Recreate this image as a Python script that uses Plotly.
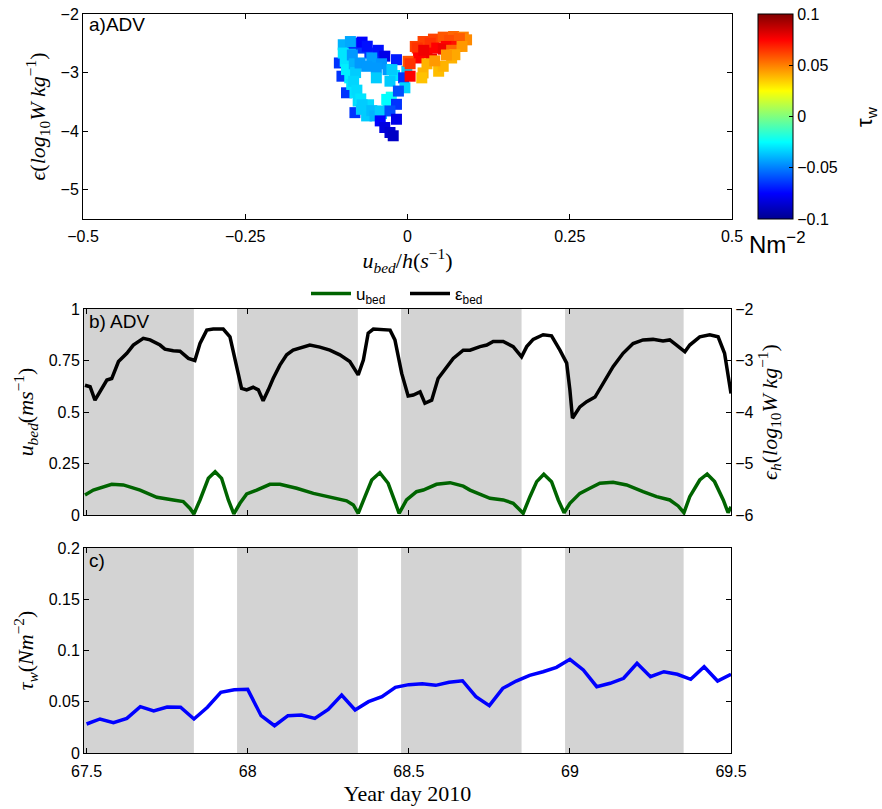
import plotly.graph_objects as go

# ---------------- panel a: epsilon vs u_bed/h coloured by tau_w ----------------
ubed_h = [-0.099, -0.084, -0.071, -0.058, -0.042, -0.017,
          -0.105, -0.101, -0.094, -0.081, -0.084, -0.070, -0.062, -0.045, -0.035,
          -0.099, -0.096, -0.094, -0.089, -0.086, -0.081, -0.076, -0.071, -0.063,
          -0.088, -0.085, -0.082, -0.080, -0.083, -0.078, -0.072, -0.060,
          -0.055, -0.040, -0.030, -0.020,
          -0.070, -0.055, -0.040, -0.030, -0.025,
          -0.050, -0.042, -0.032, -0.073, -0.063, -0.048, -0.048, -0.027, -0.024,
          -0.001, -0.006, -0.004, -0.014, -0.017, -0.027, -0.042, -0.035, -0.027,
          -0.022, -0.017,
          0.012, 0.024, 0.040, 0.055, 0.071, 0.086, 0.091,
          0.015, 0.035, 0.065, 0.080,
          0.017, 0.030, 0.045, 0.060, 0.076, 0.037, 0.025, 0.055,
          0.001, 0.004, 0.068,
          0.024, 0.022, 0.048, 0.055, 0.068, 0.084, 0.073, 0.030, 0.042, 0.060,
          0.004]
eps_a = [-2.525, -2.554, -2.582, -2.667, -2.751, -2.780,
         -2.836, -3.062, -3.345, -3.684, -2.500, -2.480, -2.550, -2.620, -2.720,
         -2.667, -2.808, -2.949, -3.090, -3.203, -3.345, -3.486, -3.627, -3.740,
         -2.470, -2.700, -2.850, -3.000, -3.150, -3.300, -3.450, -3.550,
         -2.750, -2.850, -2.950, -3.050,
         -3.550, -3.650, -3.700, -3.500, -3.420,
         -3.740, -3.655, -3.458, -2.836, -2.893, -2.921, -3.090, -3.147, -2.949,
         -2.977, -3.090, -3.260, -3.316, -3.542, -3.655, -3.825, -3.938, -4.023,
         -4.079, -3.797,
         -2.554, -2.469, -2.429, -2.395, -2.384, -2.395, -2.441,
         -2.580, -2.500, -2.450, -2.420,
         -2.751, -2.667, -2.582, -2.554, -2.554, -2.768, -2.620, -2.600,
         -2.808, -2.850, -2.620,
         -3.006, -3.090, -2.977, -2.893, -2.751, -2.554, -2.695, -2.850, -2.800, -2.700,
         -3.062]
tau_signed = [-0.040, -0.040, -0.065, -0.065, -0.070, -0.070,
              -0.065, -0.065, -0.065, -0.065, -0.065, -0.075, -0.072, -0.072, -0.080,
              -0.030, -0.030, -0.028, -0.028, -0.030, -0.030, -0.032, -0.035, -0.035,
              -0.042, -0.045, -0.040, -0.035, -0.033, -0.032, -0.030, -0.032,
              -0.044, -0.046, -0.045, -0.030,
              -0.035, -0.038, -0.036, -0.022, -0.022,
              -0.040, -0.035, -0.025, -0.045, -0.045, -0.045, -0.035, -0.035, -0.035,
              -0.035, -0.065, -0.033, -0.060, -0.065, -0.060, -0.075, -0.082, -0.085,
              -0.088, -0.080,
              0.062, 0.062, 0.062, 0.058, 0.055, 0.050, 0.048,
              0.065, 0.065, 0.060, 0.057,
              0.075, 0.075, 0.075, 0.075, 0.072, 0.078, 0.078, 0.078,
              0.058, 0.065, 0.055,
              0.040, 0.037, 0.038, 0.040, 0.040, 0.045, 0.042, 0.040, 0.045, 0.045,
              0.075]

# ---------------- panel b: near-bed velocity and dissipation ----------------
day_eps = [67.495, 67.511, 67.526, 67.542, 67.563, 67.578, 67.599, 67.625, 67.645,
           67.676, 67.697, 67.728, 67.743, 67.769, 67.790, 67.816, 67.836, 67.852,
           67.873, 67.893, 67.924, 67.945, 67.961, 67.981, 67.997, 68.017, 68.033,
           68.048, 68.064, 68.079, 68.100, 68.121, 68.141, 68.168, 68.193, 68.224,
           68.255, 68.286, 68.317, 68.343, 68.359, 68.374, 68.390, 68.442, 68.457,
           68.478, 68.498, 68.514, 68.535, 68.550, 68.571, 68.591, 68.612, 68.638,
           68.669, 68.690, 68.721, 68.742, 68.762, 68.793, 68.824, 68.850, 68.866,
           68.886, 68.917, 68.943, 68.969, 68.990, 69.000, 69.008, 69.031, 69.052,
           69.078, 69.103, 69.134, 69.165, 69.196, 69.227, 69.258, 69.289, 69.310,
           69.331, 69.357, 69.372, 69.403, 69.434, 69.460, 69.480, 69.500]
eps_bed = [-3.48, -3.51, -3.77, -3.61, -3.38, -3.35, -3.02, -2.86, -2.70,
           -2.57, -2.60, -2.70, -2.78, -2.81, -2.82, -2.96, -3.00, -2.67,
           -2.41, -2.39, -2.39, -2.54, -2.99, -3.54, -3.57, -3.52, -3.57,
           -3.78, -3.57, -3.35, -3.09, -2.89, -2.80, -2.74, -2.70, -2.74,
           -2.80, -2.89, -3.02, -3.28, -2.99, -2.47, -2.39, -2.41, -2.60,
           -3.25, -3.69, -3.67, -3.61, -3.83, -3.77, -3.35, -3.18, -2.96,
           -2.80, -2.80, -2.73, -2.70, -2.63, -2.63, -2.73, -2.93, -2.73,
           -2.59, -2.50, -2.52, -2.80, -3.05, -3.57, -4.12, -3.90, -3.80,
           -3.71, -3.44, -3.12, -2.86, -2.67, -2.60, -2.59, -2.62, -2.60,
           -2.70, -2.83, -2.70, -2.54, -2.50, -2.54, -2.86, -3.64]

day_u = [67.495, 67.521, 67.578, 67.614, 67.666, 67.718, 67.769, 67.800, 67.821,
         67.833, 67.852, 67.878, 67.899, 67.919, 67.940, 67.957, 67.976, 67.997,
         68.028, 68.069, 68.100, 68.152, 68.204, 68.266, 68.307, 68.328, 68.343,
         68.364, 68.385, 68.410, 68.436, 68.457, 68.470, 68.493, 68.524, 68.545,
         68.586, 68.628, 68.669, 68.690, 68.752, 68.793, 68.824, 68.845, 68.855,
         68.876, 68.897, 68.919, 68.943, 68.964, 68.982, 69.000, 69.031, 69.062,
         69.093, 69.134, 69.176, 69.227, 69.269, 69.310, 69.336, 69.354, 69.372,
         69.403, 69.426, 69.449, 69.476, 69.491, 69.500]
u_bed = [0.097, 0.121, 0.149, 0.146, 0.121, 0.086, 0.073, 0.065, 0.032,
         0.005, 0.073, 0.178, 0.210, 0.178, 0.073, 0.005, 0.057, 0.102,
         0.121, 0.149, 0.149, 0.130, 0.105, 0.081, 0.069, 0.049, 0.008,
         0.089, 0.170, 0.205, 0.154, 0.065, 0.008, 0.073, 0.113, 0.121,
         0.149, 0.157, 0.140, 0.121, 0.081, 0.073, 0.057, 0.024, 0.008,
         0.089, 0.162, 0.198, 0.162, 0.073, 0.011, 0.057, 0.105, 0.130,
         0.154, 0.159, 0.146, 0.113, 0.089, 0.073, 0.044, 0.011, 0.089,
         0.170, 0.199, 0.162, 0.073, 0.011, 0.040]

# ---------------- panel c: hourly wave stress ----------------
day_tau = [67.5 + k / 24 for k in range(49)]
tau_w = [0.0283, 0.0332, 0.0296, 0.0338, 0.0452, 0.0410, 0.0449, 0.0446, 0.0332, 0.0446,
         0.0592, 0.0618, 0.0621, 0.0364, 0.0266, 0.0364, 0.0371, 0.0338, 0.0426, 0.0566,
         0.0420, 0.0501, 0.0549, 0.0641, 0.0667, 0.0676, 0.0660, 0.0690, 0.0705, 0.0549,
         0.0462, 0.0631, 0.0702, 0.0758, 0.0793, 0.0836, 0.0914, 0.0810, 0.0647, 0.0680,
         0.0729, 0.0875, 0.0744, 0.0793, 0.0768, 0.0719, 0.0842, 0.0702, 0.0768]

# shaded intervals (start, end) in year day
shade_start = [67.49, 67.967, 68.476, 68.985]
shade_end = [67.833, 68.342, 68.850, 69.353]

# tick labels
xa_ticks = [-0.5, -0.25, 0, 0.25, 0.5]
xa_text = ["−0.5", "−0.25", "0", "0.25", "0.5"]
ya_ticks = [-2, -3, -4, -5]
day_ticks = [67.5, 68, 68.5, 69, 69.5]
day_text = ["67.5", "68", "68.5", "69", "69.5"]
ub_ticks = [0, 0.25, 0.5, 0.75, 1]
ub_text = ["0", "0.25", "0.5", "0.75", "1"]
eh_ticks = [-2, -3, -4, -5, -6]
tw_ticks = [0, 0.05, 0.1, 0.15, 0.2]
tw_text = ["0", "0.05", "0.1", "0.15", "0.2"]
cb_ticks = [0.1, 0.05, 0, -0.05, -0.1]
cb_text = ["0.1", "0.05", "0", "−0.05", "−0.1"]

W, H = 882, 809
# plot area (pixels) used as the reference frame for domains and annotations
L, R, T, B = 83, 732, 14, 753
SANS = "Liberation Sans, Arial, sans-serif"
SERIF = "Liberation Serif, Times New Roman, serif"

jet = [[0.0, "#00008F"], [0.125, "#0000FF"], [0.375, "#00FFFF"],
       [0.625, "#FFFF00"], [0.875, "#FF0000"], [1.0, "#800000"]]


def fx(p):
    return (p - L) / (R - L)


def fy(p):
    return (B - p) / (B - T)


fig = go.Figure()

fig.add_trace(go.Scatter(
    x=ubed_h, y=eps_a, mode="markers", xaxis="x", yaxis="y", showlegend=False,
    marker=dict(symbol="square", size=11, color=tau_signed, colorscale=jet,
                cmin=-0.1, cmax=0.1, line=dict(width=0),
                colorbar=dict(
                    x=fx(758), xanchor="left", y=fy(116.5), yanchor="middle",
                    thickness=35, thicknessmode="pixels", len=205, lenmode="pixels",
                    outlinecolor="black", outlinewidth=1,
                    tickvals=cb_ticks, ticktext=cb_text, ticks="inside", ticklen=4,
                    tickcolor="black",
                    tickfont=dict(family=SANS, size=16, color="black"),
                    xpad=0, ypad=0)),
))

fig.add_trace(go.Scatter(
    x=day_u, y=u_bed, mode="lines", name="u<sub>bed</sub>", xaxis="x2", yaxis="y2",
    line=dict(color="#006400", width=3.5)))
fig.add_trace(go.Scatter(
    x=day_eps, y=eps_bed, mode="lines", name="ε<sub>bed</sub>", xaxis="x2", yaxis="y3",
    line=dict(color="black", width=3.5)))

fig.add_trace(go.Scatter(
    x=day_tau, y=tau_w, mode="lines", xaxis="x3", yaxis="y4", showlegend=False,
    line=dict(color="#0000FF", width=3.5)))

# grey shading behind panels b and c
for s, e in zip(shade_start, shade_end):
    for xr, yr in (("x2", "y2 domain"), ("x3", "y4 domain")):
        fig.add_shape(type="rect", xref=xr, yref=yr, x0=s, x1=e, y0=0, y1=1,
                      fillcolor="#d3d3d3", line=dict(width=0), layer="below")

axis_common = dict(showgrid=False, zeroline=False, showline=True, linecolor="black",
                   linewidth=1, ticks="inside", ticklen=5, tickcolor="black",
                   automargin=False,
                   tickfont=dict(family=SANS, size=16, color="black"))

dom_x_a = [fx(83), fx(732)]
dom_x = [fx(84), fx(731)]
title_font = dict(family=SERIF, size=22, color="black")

fig.update_layout(
    width=W, height=H, margin=dict(l=L, r=W - R, t=T, b=H - B, autoexpand=False),
    paper_bgcolor="white", plot_bgcolor="white",
    xaxis=dict(axis_common, domain=dom_x_a, range=[-0.5, 0.5], anchor="y",
               tickvals=xa_ticks, ticktext=xa_text, mirror="ticks", ticklabelstandoff=3,
               title=dict(text="<i>u<sub>bed</sub></i>/<i>h</i>(<i>s</i><sup>−1</sup>)",
                          font=title_font, standoff=4)),
    yaxis=dict(axis_common, domain=[fy(219), fy(14)], range=[-5.5, -2], anchor="x",
               tickvals=ya_ticks, mirror="ticks",
               title=dict(text="<i>ϵ</i>(<i>log</i><sub>10</sub><i>W kg</i><sup>−1</sup>)",
                          font=title_font, standoff=8)),
    xaxis2=dict(axis_common, domain=dom_x, range=[67.492, 69.5], anchor="y2",
                tickvals=day_ticks, showticklabels=False, mirror="ticks"),
    yaxis2=dict(axis_common, domain=[fy(515), fy(309)], range=[0, 1], anchor="x2",
                tickvals=ub_ticks, ticktext=ub_text,
                title=dict(text="<i>u<sub>bed</sub></i>(<i>ms</i><sup>−1</sup>)",
                           font=title_font, standoff=8)),
    yaxis3=dict(axis_common, overlaying="y2", side="right", range=[-6, -2], anchor="x2",
                tickvals=eh_ticks,
                title=dict(text="<i>ϵ<sub>h</sub></i>(<i>log</i><sub>10</sub><i>W kg</i><sup>−1</sup>)",
                           font=title_font, standoff=8)),
    xaxis3=dict(axis_common, domain=dom_x, range=[67.492, 69.5], anchor="y4",
                tickvals=day_ticks, ticktext=day_text, mirror="ticks", ticklabelstandoff=4,
                title=dict(text="Year day 2010", font=title_font, standoff=6)),
    yaxis4=dict(axis_common, domain=[fy(753), fy(548)], range=[0, 0.2], anchor="x3",
                tickvals=tw_ticks, ticktext=tw_text, mirror="ticks",
                title=dict(text="<i>τ<sub>w</sub></i>(<i>Nm</i><sup>−2</sup>)",
                           font=title_font, standoff=8)),
    legend=dict(orientation="h", x=fx(306), xanchor="left", y=fy(276), yanchor="top",
                bgcolor="rgba(0,0,0,0)", font=dict(family=SANS, size=17, color="black"),
                itemwidth=40, tracegroupgap=0, entrywidth=44, entrywidthmode="pixels"),
    showlegend=True,
)

annots = [
    dict(text="a)ADV", x=fx(87), y=fy(12), xanchor="left", yanchor="top",
         font=dict(family=SANS, size=19, color="black")),
    dict(text="b) ADV", x=fx(87), y=fy(309), xanchor="left", yanchor="top",
         font=dict(family=SANS, size=19, color="black")),
    dict(text="c)", x=fx(87), y=fy(548), xanchor="left", yanchor="top",
         font=dict(family=SANS, size=19, color="black")),
    dict(text="τ<sub>w</sub>", x=fx(866), y=fy(117), xanchor="center", yanchor="middle",
         textangle=-90, font=dict(family=SANS, size=22, color="black")),
    dict(text="Nm<sup>−2</sup>", x=fx(747), y=fy(243), xanchor="left", yanchor="middle",
         font=dict(family=SANS, size=24, color="black")),
]
for a in annots:
    fig.add_annotation(xref="paper", yref="paper", showarrow=False, **a)

fig.write_html("out.html")
